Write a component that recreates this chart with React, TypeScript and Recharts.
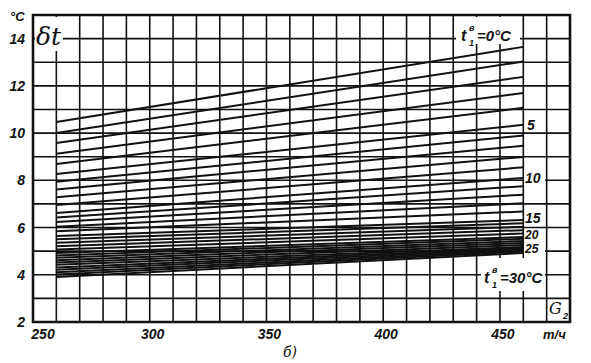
import React from 'react';
import { LineChart, Line, XAxis, YAxis, CartesianGrid, ReferenceArea } from 'recharts';

// G (т/ч) at the start and end of each curve
const flowPoints = [260, 460];
// t1 (°C) of each curve
const temperatures = [0, 1, 2, 3, 4, 5, 6, 7, 8, 9, 10, 11, 12, 13, 14, 15, 16, 17, 18, 19, 20, 21, 22, 23, 24, 25, 26, 27, 28, 29, 30];
// δt at G = 260
const deltaAtStart = [10.47, 10.0, 9.58, 9.12, 8.69, 8.27, 7.94, 7.61, 7.28, 6.95, 6.62, 6.42, 6.23, 6.03, 5.84, 5.64, 5.5, 5.36, 5.21, 5.07, 4.92, 4.82, 4.72, 4.62, 4.52, 4.42, 4.31, 4.21, 4.11, 4.01, 3.91];
// δt at G = 460
const deltaAtEnd = [13.65, 13.03, 12.38, 11.7, 11.07, 10.35, 9.9, 9.46, 8.99, 8.55, 8.1, 7.75, 7.39, 7.03, 6.68, 6.32, 6.18, 6.03, 5.89, 5.75, 5.6, 5.52, 5.43, 5.35, 5.26, 5.18, 5.13, 5.08, 5.03, 4.98, 4.92];

const xTicks = [250, 260, 270, 280, 290, 300, 310, 320, 330, 340, 350, 360, 370, 380, 390, 400, 410, 420, 430, 440, 450, 460, 470, 480];
const xLabelTicks = [250, 300, 350, 400, 450];
const yTicks = [2, 3, 4, 5, 6, 7, 8, 9, 10, 11, 12, 13, 14, 15];
const yLabelTicks = [2, 4, 6, 8, 10, 12, 14];

const data = flowPoints.map((g, i) => {
  const row: Record<string, number> = { G: g };
  temperatures.forEach((t, k) => {
    row['t' + t] = i === 0 ? deltaAtStart[k] : deltaAtEnd[k];
  });
  return row;
});

const INK = '#111';
const FONT = '"Liberation Sans", Arial, sans-serif';

const XTick = (props: any) => {
  const { x, y, payload } = props;
  if (!xLabelTicks.includes(payload.value)) return <g />;
  const dx = payload.value === 250 ? 10 : 3;
  return (
    <text x={x + dx} y={y + 17} textAnchor="middle" fontFamily={FONT} fontWeight="bold" fontStyle="italic" fontSize={14} fill={INK}>
      {payload.value}
    </text>
  );
};

const YTick = (props: any) => {
  const { x, y, payload } = props;
  if (!yLabelTicks.includes(payload.value)) return <g />;
  return (
    <text x={x} y={y + 5} textAnchor="end" fontFamily={FONT} fontWeight="bold" fontStyle="italic" fontSize={14} fill={INK}>
      {payload.value}
    </text>
  );
};

const lbl = { fontFamily: FONT, fontWeight: 'bold' as const, fontStyle: 'italic' as const, fill: INK };

export default function App() {
  return (
    <div style={{ position: 'absolute', left: 0, top: 0, width: 591, height: 363, background: '#fff' }}>
      <LineChart width={591} height={363} data={data} margin={{ top: 15, right: 21, left: 0, bottom: 0 }}>
        <CartesianGrid stroke={INK} strokeWidth={1.6} />
        <XAxis dataKey="G" type="number" domain={[250, 480]} ticks={xTicks} interval={0} height={41} axisLine={false} tickLine={false} tickSize={0} tickMargin={0} tick={<XTick />} />
        <YAxis type="number" domain={[2, 15]} ticks={yTicks} interval={0} width={33} axisLine={false} tickLine={false} tickSize={0} tickMargin={8} tick={<YTick />} />
        <ReferenceArea x1={250} x2={480} y1={2} y2={15} fill="none" stroke={INK} strokeWidth={2.6} ifOverflow="visible" />
        {temperatures.map((t) => (
          <Line key={t} dataKey={'t' + t} stroke={INK} strokeWidth={2} dot={false} isAnimationActive={false} />
        ))}
      </LineChart>
      <svg width={591} height={363} style={{ position: 'absolute', left: 0, top: 0, pointerEvents: 'none' }}>
        <rect x={35} y={17} width={28} height={34} fill="#fff" />
        <rect x={456} y={17} width={64} height={27} fill="#fff" />
        <rect x={481} y={258} width={64} height={33} fill="#fff" />
        <rect x={524} y={171} width={21} height={15} fill="#fff" />
        <rect x={524} y={244} width={21} height={11} fill="#fff" />
        <text x={10} y={21} fontSize={13} {...lbl}>°C</text>
        <text x={36} y={45} fontFamily='"DejaVu Serif", serif' fontStyle="italic" fontSize={25} fill={INK}>δt</text>
        <text x={461} y={41} fontSize={16} {...lbl}>t</text>
        <text x={469} y={31} fontSize={9} {...lbl}>в</text>
        <text x={469} y={46} fontSize={9} {...lbl}>1</text>
        <text x={477} y={41} fontSize={15} {...lbl}>=0°C</text>
        <text x={527} y={130} fontSize={14} {...lbl}>5</text>
        <text x={525} y={183} fontSize={14} {...lbl}>10</text>
        <text x={525} y={223} fontSize={14} {...lbl}>15</text>
        <text x={525} y={239} fontSize={12} {...lbl}>20</text>
        <text x={525} y={253} fontSize={12} {...lbl}>25</text>
        <text x={484} y={283} fontSize={16} {...lbl}>t</text>
        <text x={492} y={273} fontSize={9} {...lbl}>в</text>
        <text x={492} y={288} fontSize={9} {...lbl}>1</text>
        <text x={500} y={283} fontSize={15} {...lbl}>=30°C</text>
        <text x={549} y={314} fontFamily='"DejaVu Serif", serif' fontStyle="italic" fontSize={16} fill={INK}>G</text>
        <text x={563} y={319} fontSize={9} {...lbl}>2</text>
        <text x={543} y={339} fontSize={13} {...lbl}>т/ч</text>
        <text x={283} y={357} fontFamily='"DejaVu Serif", serif' fontStyle="italic" fontSize={14} fill={INK}>б)</text>
      </svg>
    </div>
  );
}
